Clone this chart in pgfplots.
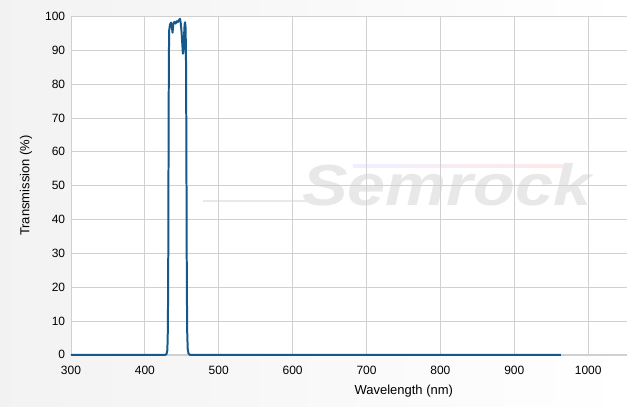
\documentclass[border=0pt]{standalone}
\usepackage{pgfplots}
\pgfplotsset{compat=1.18}
\usepackage{fontspec}
\setmainfont{Liberation Sans}
\definecolor{curveblue}{RGB}{20,88,140}
\definecolor{gridgrey}{RGB}{208,208,208}
\definecolor{marktext}{RGB}{232,232,232}

\begin{document}
\begin{tikzpicture}
  % page background and plot area
  \shade[left color=black!5, right color=white] (-71bp,-52bp) rectangle (556bp,355bp);
  \fill[white] (0,0) rectangle (556bp,338.5bp);
  % watermark
  \shade[left color=blue!6, middle color=green!8, right color=red!9] (282bp,187.5bp) rectangle (492bp,190bp);
  \draw[marktext, line width=1.5bp] (132bp,154bp) -- (240bp,154bp);
  \node[marktext, font=\fontsize{58bp}{58bp}\selectfont\bfseries\itshape,
        xscale=1.18, transform shape] at (376bp,170bp) {Semrock};
  \begin{axis}
    [
    scale only axis,
    width=556bp,
    height=338.5bp,
    xmin=300, xmax=1052,
    ymin=0, ymax=100,
    xtick={300,400,...,1000},
    ytick={0,10,...,100},
    axis lines=left,
    axis line style={gridgrey, -},
    tick style={draw=none},
    grid style={gridgrey, line width=0.8pt},
    xmajorgrids,
    ymajorgrids,
    clip=false,
    /pgf/number format/assume math mode=true,
    /pgf/number format/set thousands separator={},
    tick label style={font=\fontsize{12bp}{14bp}\selectfont, black, inner sep=0pt},
    xticklabel style={anchor=center, yshift=-13bp},
    yticklabel style={anchor=east, xshift=-3.5bp},
    xlabel={Wavelength (nm)},
    ylabel={Transmission (\%)},
    label style={font=\fontsize{13bp}{15bp}\selectfont, black, inner sep=0pt},
    xlabel style={at={(axis description cs:0.599,0)}, anchor=center, yshift=-36bp},
    ylabel style={at={(axis description cs:0,0.5)}, anchor=center, yshift=45bp},
    ]
    \addplot[curveblue, line width=2pt, line join=round] table {
      300 0
      420 0
      428 0
      429.5 0.3
      430.5 1.5
      431.2 8
      431.7 30
      432.1 62
      432.5 88
      433 96
      434 97.6
      435.5 98.2
      436.5 97
      437.5 95.2
      438.5 97.8
      440 98.4
      441.5 97.9
      443 98.6
      444.5 98.3
      446 98.9
      447.5 99.3
      448.5 98.2
      449.5 96
      450.5 92.5
      451.5 89
      452.2 89.5
      453 94
      453.8 97.6
      454.5 98.3
      455.2 96.5
      455.8 85
      456.3 55
      456.8 22
      457.3 7
      458 1.8
      459 0.4
      461 0
      500 0
      963 0
    };
  \end{axis}
\end{tikzpicture}
\end{document}
